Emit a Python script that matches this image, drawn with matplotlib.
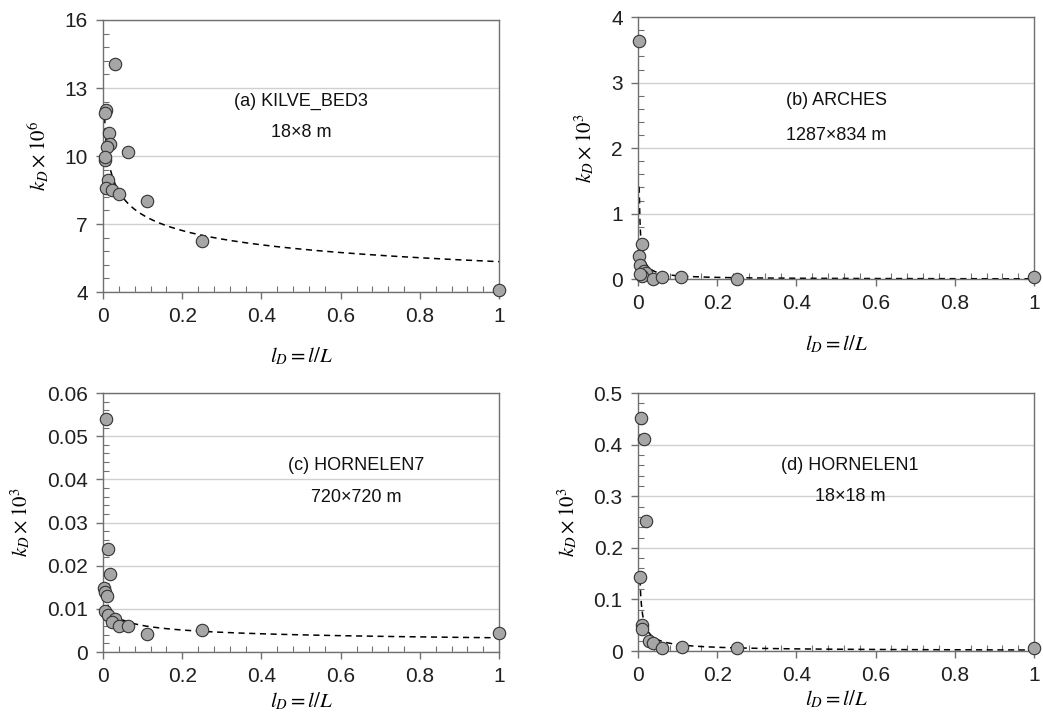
import matplotlib
matplotlib.use("Agg")
import matplotlib.pyplot as plt
import matplotlib.ticker as mticker
import numpy as np

plt.rcParams['font.family'] = ['Liberation Sans', 'DejaVu Sans']
plt.rcParams['mathtext.fontset'] = 'stix'

# (a) KILVE_BED3
a_x = [0.03, 0.007, 0.004, 0.014, 0.018, 0.009, 0.063, 0.004, 0.005, 0.013, 0.007, 0.022, 0.041, 0.11, 0.25, 1.0]
a_y = [14.05, 12.03, 11.9, 11.03, 10.53, 10.41, 10.19, 9.82, 9.95, 8.94, 8.58, 8.5, 8.31, 8.03, 6.25, 4.1]
# (b) ARCHES
b_x = [0.003, 0.009, 0.003, 0.004, 0.015, 0.02, 0.009, 0.006, 0.037, 0.06, 0.109, 0.25, 1.0]
b_y = [3.63, 0.53, 0.35, 0.22, 0.12, 0.10, 0.05, 0.08, 0.01, 0.035, 0.04, 0.005, 0.03]
# (c) HORNELEN7
c_x = [0.0076, 0.013, 0.018, 0.003, 0.005, 0.009, 0.005, 0.013, 0.03, 0.022, 0.041, 0.064, 0.112, 0.25, 1.0]
c_y = [0.0539, 0.0238, 0.018, 0.0148, 0.014, 0.013, 0.0096, 0.0086, 0.0076, 0.0069, 0.0061, 0.0061, 0.0042, 0.0052, 0.0043]
# (d) HORNELEN1
d_x = [0.007, 0.015, 0.02, 0.005, 0.009, 0.009, 0.029, 0.039, 0.061, 0.111, 0.25, 1.0]
d_y = [0.451, 0.411, 0.252, 0.143, 0.05, 0.042, 0.019, 0.015, 0.005, 0.007, 0.005, 0.005]

# power-law trendlines k = A * l^B
fit_A = [5.34, 0.006, 0.0033, 0.002]
fit_B = [-0.142, -0.94, -0.27, -0.8]
fit_xmin = [0.003, 0.003, 0.003, 0.005]

titles = ["(a) KILVE_BED3", "(b) ARCHES", "(c) HORNELEN7", "(d) HORNELEN1"]
sizes = ["18\u00d78 m", "1287\u00d7834 m", "720\u00d7720 m", "18\u00d718 m"]
ylabels = [r"$k_D \times 10^6$", r"$k_D \times 10^3$", r"$k_D \times 10^3$", r"$k_D \times 10^3$"]
ylims = [(4, 16), (0, 4), (0, 0.06), (0, 0.5)]
ymajor = [3, 1, 0.01, 0.1]

fig = plt.figure(figsize=(10.43, 7.14), dpi=100)
rects = [[0.0988, 0.591, 0.3797, 0.381],
         [0.6117, 0.609, 0.3797, 0.367],
         [0.0988, 0.0868, 0.3797, 0.3627],
         [0.6117, 0.0882, 0.3797, 0.3613]]
text_pos = [(0.50, 0.70, 0.585), (0.50, 0.68, 0.55), (0.64, 0.72, 0.595), (0.535, 0.72, 0.60)]
xlabel_pad = [14, 14, 3, 2]

xs = [a_x, b_x, c_x, d_x]
ys = [a_y, b_y, c_y, d_y]

for i in range(4):
    ax = fig.add_axes(rects[i])
    ax.set_xlim(0, 1)
    ax.set_ylim(*ylims[i])
    ax.yaxis.grid(True, color='#d0d0d0', linewidth=1.0)
    ax.set_axisbelow(True)

    xf = np.linspace(fit_xmin[i], 1, 600)
    ax.plot(xf, fit_A[i] * xf ** fit_B[i], color='black', linestyle=(0, (4, 3)), linewidth=1.1, zorder=2)
    ax.scatter(xs[i], ys[i], s=80, facecolor='#a6a6a6', edgecolor='#333333', linewidth=0.8, zorder=3, clip_on=False)

    ax.xaxis.set_major_locator(mticker.MultipleLocator(0.2))
    ax.xaxis.set_minor_locator(mticker.MultipleLocator(0.04))
    y0, y1 = ylims[i]
    ax.set_yticks(np.arange(y0, y1 + ymajor[i] / 2, ymajor[i]))
    ax.set_yticks(np.arange(y0, y1 + ymajor[i] / 10, ymajor[i] / 5), minor=True)
    ax.set_ylim(*ylims[i])
    ax.xaxis.set_major_formatter(mticker.FormatStrFormatter('%g'))
    ax.yaxis.set_major_formatter(mticker.FuncFormatter(lambda v, p: ('%.2f' % v).rstrip('0').rstrip('.')))
    ax.tick_params(which='major', direction='out', length=5, width=1, color='#707070',
                   labelsize=15, labelcolor='#202020', pad=6)
    ax.tick_params(which='minor', direction='in', length=4, width=0.8, color='#707070')
    for s in ax.spines.values():
        s.set_color('#707070')
        s.set_linewidth(1.0)

    ax.set_ylabel(ylabels[i], fontsize=15, labelpad=10)
    ax.set_xlabel(r"$l_D = l/L$", fontsize=15, labelpad=xlabel_pad[i])

    tx, ty1, ty2 = text_pos[i]
    ax.text(tx, ty1, titles[i], transform=ax.transAxes, ha='center', va='center', fontsize=13, color='#111111')
    ax.text(tx, ty2, sizes[i], transform=ax.transAxes, ha='center', va='center', fontsize=13, color='#111111')

fig.savefig("out.png", dpi=100)
